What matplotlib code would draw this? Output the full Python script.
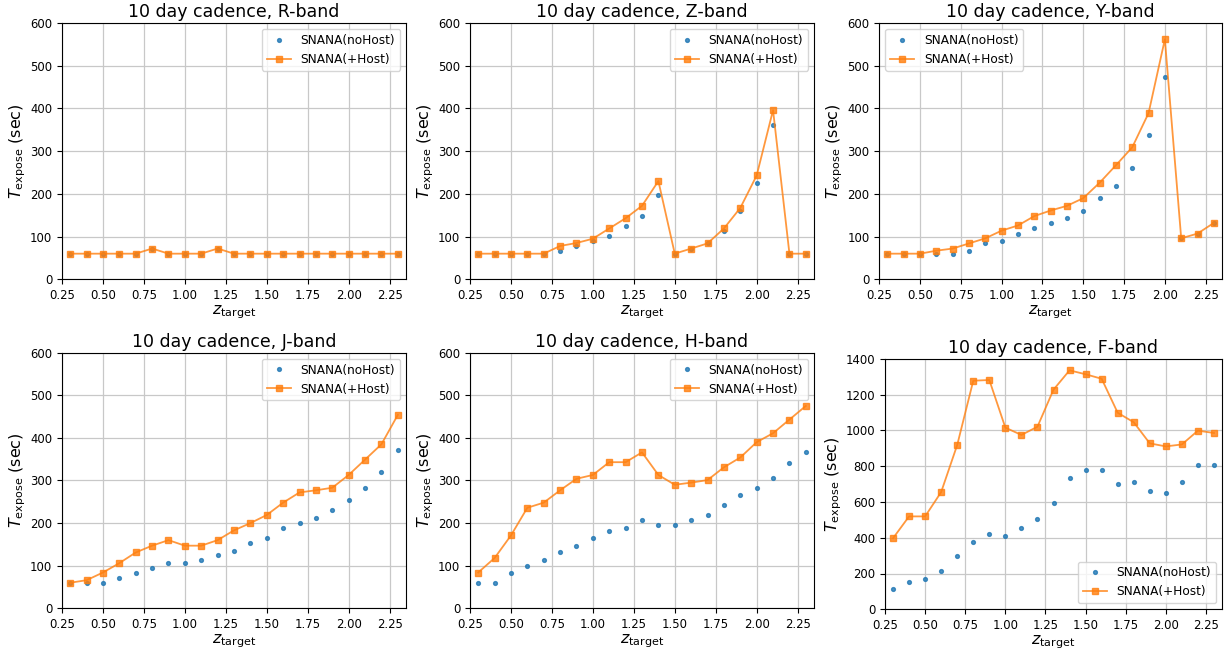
import matplotlib
matplotlib.use("Agg")
import matplotlib.pyplot as plt

z_target = [0.3, 0.4, 0.5, 0.6, 0.7, 0.8, 0.9, 1.0, 1.1, 1.2, 1.3,
            1.4, 1.5, 1.6, 1.7, 1.8, 1.9, 2.0, 2.1, 2.2, 2.3]

# exposure times (sec) per band: without host light / with host light
r_nohost = [60, 60, 60, 60, 60, 72, 60, 60, 60, 72, 60,
            60, 60, 60, 60, 60, 60, 60, 60, 60, 60]
r_host = [60, 60, 60, 60, 60, 72, 60, 60, 60, 72, 60,
          60, 60, 60, 60, 60, 60, 60, 60, 60, 60]

z_nohost = [60, 60, 60, 60, 60, 67, 78, 90, 101, 125, 148,
            197, 60, 72, 84, 114, 161, 226, 361, 60, 60]
z_host = [60, 60, 60, 60, 60, 78, 85, 95, 119, 143, 172,
          230, 60, 72, 84, 119, 167, 243, 396, 60, 60]

y_nohost = [60, 60, 60, 60, 60, 66, 84, 90, 107, 119, 132,
            143, 161, 190, 219, 260, 338, 473, 96, 107, 132]
y_host = [60, 60, 60, 67, 72, 84, 96, 114, 126, 148, 161,
          172, 190, 226, 267, 309, 389, 562, 96, 107, 132]

j_nohost = [60, 60, 60, 71, 84, 95, 107, 107, 113, 124, 135,
            153, 165, 189, 200, 213, 230, 254, 283, 319, 371]
j_host = [60, 66, 84, 106, 131, 147, 160, 147, 147, 160, 183,
          200, 219, 248, 272, 277, 283, 313, 349, 385, 454]

h_nohost = [60, 60, 84, 100, 113, 131, 147, 165, 182, 189, 207,
            196, 196, 207, 218, 243, 266, 283, 307, 342, 366]
h_host = [84, 118, 171, 236, 248, 277, 304, 313, 343, 343, 366,
          313, 290, 295, 301, 331, 354, 390, 411, 443, 475]

f_nohost = [114, 155, 169, 212, 296, 378, 421, 410, 452, 505, 596,
            732, 780, 780, 698, 709, 663, 648, 709, 808, 808]
f_host = [397, 519, 519, 655, 918, 1277, 1281, 1015, 974, 1020, 1227,
          1335, 1313, 1288, 1098, 1045, 927, 910, 921, 998, 985]

bands = ["R", "Z", "Y", "J", "H", "F"]
nohost_series = [r_nohost, z_nohost, y_nohost, j_nohost, h_nohost, f_nohost]
host_series = [r_host, z_host, y_host, j_host, h_host, f_host]
y_limits = [600, 600, 600, 600, 600, 1400]
legend_locs = ["upper right", "upper right", "upper left",
               "upper right", "upper right", "lower right"]

W, H = 1224, 649
# panel boxes in pixels: left, top, right, bottom
boxes = [
    (62, 23, 406, 279.3),
    (470, 23, 814, 279.3),
    (879.3, 23, 1222, 279.3),
    (62, 352.7, 406, 608.3),
    (470, 352.7, 814, 608.3),
    (885, 358.7, 1222, 609.3),
]

fig = plt.figure(figsize=(W / 100, H / 100), dpi=100)

for band, nh, hs, ymax, loc, (l, t, r, b) in zip(
        bands, nohost_series, host_series, y_limits, legend_locs, boxes):
    ax = fig.add_axes([l / W, (H - b) / H, (r - l) / W, (b - t) / H])
    ax.plot(z_target, nh, ".", color="#1f77b4", alpha=0.8, ms=5.5,
            label="SNANA(noHost)")
    ax.plot(z_target, hs, "s-", color="#ff7f0e", alpha=0.8, ms=4, lw=1.3,
            label="SNANA(+Host)")
    ax.set_xlim(0.25, 2.35)
    ax.set_ylim(0, ymax)
    ax.set_xticks([0.25, 0.5, 0.75, 1.0, 1.25, 1.5, 1.75, 2.0, 2.25])
    ax.grid(True, color="#c8c8c8", lw=0.9)
    ax.tick_params(labelsize=8.4)
    ax.set_title(f"10 day cadence, {band}-band", fontsize=12.5, pad=4)
    ax.set_xlabel(r"$z_{\rm target}$", fontsize=11.5, labelpad=1)
    ax.set_ylabel(r"$T_{\rm expose}$ (sec)", fontsize=11.5, labelpad=1.5)
    ax.legend(loc=loc, fontsize=8.7)

fig.savefig("out.png", dpi=100)
